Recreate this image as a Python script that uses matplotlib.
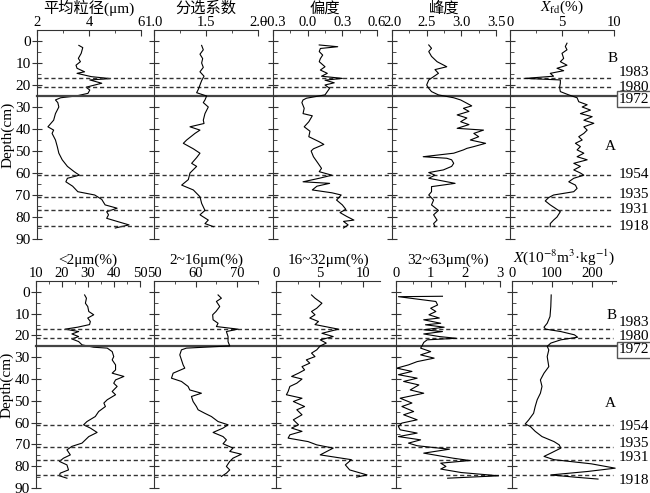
import matplotlib
matplotlib.use("Agg")
from matplotlib import pyplot as plt
from matplotlib.ticker import MultipleLocator

plt.rcParams['font.family'] = ['Liberation Serif', 'Noto Sans CJK SC']
plt.rcParams['mathtext.fontset'] = 'stix'
plt.rcParams['font.size'] = 10.5

# ---- top row data (depth in cm) ----
depth_mz = [2, 3, 5.6, 7.9, 9.4, 11, 12.4, 14, 14.7, 16.2, 17.1, 17.7, 19.2, 21, 22.3, 23.8, 25, 25.8,
            26.8, 28, 30, 33, 36, 39, 40.5, 42, 45, 48, 51, 54, 57, 59.4, 61, 62.4, 64, 66, 68.5, 70,
            72, 74.5, 76, 77.6, 79, 80.6, 82, 83.6, 85]
mean_size = [3.61, 3.76, 3.70, 3.59, 3.67, 3.50, 3.54, 3.83, 3.54, 4.09, 4.82, 4.03, 4.49, 3.89, 4.03,
             3.96, 3.50, 2.91, 2.71, 2.80, 2.84, 2.71, 2.64, 2.42, 2.64, 2.58, 2.71, 2.78, 2.84, 2.97,
             3.17, 3.43, 3.63, 3.17, 3.11, 3.37, 3.57, 4.22, 4.49, 4.62, 5.08, 4.68, 4.75, 4.68, 5.08,
             5.54, 5.01]

depth_so = [2, 4, 6, 8, 10, 12, 14, 16, 18, 20, 22, 23.5, 25, 26.8, 28, 30, 33, 36, 37.5, 39, 40.5,
            42, 45, 46.5, 49, 51, 53, 55.6, 57, 60, 63, 65.5, 67.7, 70.8, 73.8, 77, 79, 81.4, 83, 84.4]
sorting = [1.458, 1.474, 1.442, 1.468, 1.458, 1.474, 1.442, 1.481, 1.458, 1.442, 1.426, 1.41, 1.506,
           1.49, 1.474, 1.522, 1.49, 1.474, 1.481, 1.346, 1.442, 1.394, 1.314, 1.282, 1.378, 1.442,
           1.41, 1.362, 1.41, 1.346, 1.33, 1.266, 1.378, 1.442, 1.458, 1.49, 1.442, 1.522, 1.49, 1.571]

depth_sk = [1.8, 2.6, 3.4, 4.8, 6.4, 8, 9.4, 11.7, 13.2, 14.7, 16, 17, 17.8, 19, 20, 21.5, 23, 24.5,
            26, 26.8, 28, 30.6, 33, 34, 36.7, 39, 41, 43.5, 45.8, 47, 49, 50, 52.6, 55.6, 57.9, 59.4,
            61, 62.4, 64, 64.7, 66, 67.7, 69, 70, 72.3, 74.5, 76.5, 78, 79.8, 81.4, 82, 83.6, 85]
skewness = [0.10, 0.26, 0.11, 0.10, 0.13, 0.11, 0.10, 0.15, 0.11, 0.17, 0.12, 0.30, 0.15, 0.23, 0.15,
            0.19, 0.17, 0.15, -0.01, -0.04, -0.05, -0.03, -0.04, 0.04, 0.01, -0.03, 0.02, 0.01, 0.10,
            0.14, 0.05, 0.03, 0.05, 0.09, 0.12, 0.10, 0.21, 0.10, -0.04, 0.19, 0.08, 0.04, 0.21, 0.29,
            0.25, 0.30, 0.33, 0.28, 0.34, 0.40, 0.31, 0.35, 0.31]

depth_ku = [1.8, 3.3, 4.8, 7, 9.4, 11.7, 13, 14.7, 16.2, 17.7, 20, 21.5, 23, 24.5, 25.8, 26.8, 28.3,
            29.5, 30.6, 32, 33.6, 35, 36.7, 38, 39.7, 40.5, 42, 43.5, 45, 46.5, 48, 48.8, 49.5, 51,
            52.6, 53.3, 54, 55.6, 57, 58.6, 59.8, 61, 62.4, 64.7, 66.2, 68.5, 70, 72.3, 74.5, 77, 79,
            81.4, 83, 84.4]
kurtosis = [2.53, 2.57, 2.53, 2.57, 2.65, 2.79, 2.62, 2.67, 2.60, 2.53, 2.50, 2.53, 2.57, 2.67, 2.89,
            2.99, 3.08, 3.15, 3.03, 3.11, 2.94, 3.08, 2.99, 3.11, 2.94, 3.32, 3.18, 3.25, 3.13, 3.35,
            3.18, 3.08, 3.03, 2.89, 2.45, 2.79, 2.86, 2.89, 2.86, 2.74, 2.53, 2.62, 2.53, 2.91, 2.57,
            2.57, 2.53, 2.60, 2.57, 2.67, 2.60, 2.65, 2.60, 2.62]

depth_xfd = [1, 2.5, 4, 5.6, 7.9, 9.4, 11, 12.4, 13.5, 14.7, 16, 17, 17.7, 19.2, 21, 23, 24.5, 25.8,
             27.6, 29, 30, 31.4, 33, 34.4, 36, 37.4, 39, 40.5, 42, 43.5, 45, 46.5, 48, 49.5, 51, 52.6,
             54, 55.6, 57, 58.6, 60, 61, 62.4, 64, 65.5, 67, 68.5, 70, 71.2, 72.7, 74.5, 76, 77.6, 80,
             81.4, 83, 84.4]
xfd = [5.48, 5.32, 5.48, 5.0, 5.16, 4.84, 5.48, 4.52, 5.16, 3.87, 4.19, 1.45, 4.84, 4.84, 4.77, 4.84,
       5.65, 6.45, 6.61, 7.42, 6.94, 7.74, 6.77, 7.90, 7.10, 8.06, 7.10, 7.42, 7.10, 6.61, 6.94, 6.29,
       6.77, 6.45, 7.10, 6.45, 7.42, 6.13, 6.77, 6.13, 6.77, 7.10, 6.13, 5.65, 6.29, 6.45, 6.13, 4.19,
       3.71, 3.39, 3.87, 4.35, 4.84, 4.52, 4.19, 3.87, 3.87]

# ---- bottom row data ----
depth_clay = [1.4, 2.9, 5.2, 6.7, 9, 10.5, 12, 13.6, 15, 16.2, 17.1, 18.2, 19.3, 20.5, 21.6, 22.8,
              24.3, 25.4, 25.8, 27.4, 29.7, 31.2, 33.5, 35.8, 37.3, 38.8, 40.4, 41.9, 43.4, 45.7,
              47.2, 49.5, 51, 52.6, 54.9, 57.2, 59.5, 61, 62.5, 64.5, 66.4, 67.9, 69.4, 70.9, 72.5,
              74.8, 76.3, 77.8, 79.4, 81.7, 83.2, 84.4, 85.5]
clay = [28.7, 29.4, 29.0, 29.9, 30.3, 32.2, 29.9, 30.9, 30.6, 26.0, 21.2, 26.4, 23.8, 26.4, 23.8, 26.4,
        27.7, 32.2, 37.4, 39.3, 39.9, 39.3, 40.6, 40.6, 39.3, 43.8, 40.6, 39.9, 41.2, 39.3, 40.6, 37.4,
        36.1, 36.7, 34.1, 32.8, 29.6, 28.3, 30.9, 33.5, 30.3, 29.0, 27.7, 23.8, 21.9, 23.2, 20.6, 19.0,
        21.9, 22.5, 19.3, 19.0, 21.9]

depth_fs = [1.4, 2.9, 4.4, 6.7, 9, 10.5, 12.8, 14.4, 15.9, 17.1, 18.2, 20.5, 22.8, 24.8, 25.8, 26.6,
            28.9, 31.2, 33.5, 35, 37.3, 39.6, 41.1, 43.4, 45, 46.5, 48, 50.3, 52.6, 54.1, 55.7, 57.2,
            59.5, 61, 62.5, 64.5, 66.4, 67.9, 69.7, 71.7, 73.2, 74.5, 76.3, 77.8, 80.1, 81.7, 83.2, 84.7]
silt_2_16 = [65.4, 66.2, 65.0, 65.8, 64.9, 64.1, 64.2, 65.4, 65.0, 70.2, 67.4, 67.8, 67.8, 68.2, 57.8,
             56.6, 56.2, 56.6, 57.0, 57.4, 54.6, 54.2, 56.6, 58.2, 58.6, 61.4, 59.0, 59.4, 60.2, 60.6,
             62.2, 63.8, 65.4, 67.8, 66.6, 64.2, 66.6, 67.4, 66.6, 69.0, 68.2, 71.0, 69.0, 68.2, 67.4,
             68.2, 67.4, 66.2]

depth_ms = [1.4, 2.9, 5.2, 7.5, 9, 10.5, 12, 13.6, 15, 17.1, 19, 20.5, 22, 23.5, 24.8, 26.6, 28.1,
            29.7, 31.2, 32.7, 34.3, 35.8, 37.3, 38.8, 40, 41.9, 43.4, 45.7, 47.2, 48.8, 50.3, 52.6,
            54.1, 56.4, 58.7, 61, 62.5, 64, 65.6, 67.1, 68.7, 70.2, 71.7, 74.8, 77, 79.4, 81.7, 84, 85]
silt_16_32 = [4.1, 4.5, 5.3, 4.7, 4.1, 4.5, 3.9, 4.9, 4.5, 7.2, 5.3, 6.6, 5.1, 5.8, 5.1, 4.7, 4.1,
              4.5, 3.5, 3.9, 3.0, 3.3, 2.6, 1.8, 3.0, 2.4, 1.6, 1.4, 1.2, 3.0, 2.0, 3.3, 2.4, 3.0, 2.0,
              2.6, 1.8, 3.0, 1.6, 1.4, 3.7, 4.7, 6.6, 5.1, 8.7, 8.0, 8.5, 10.5, 9.3]

depth_cs = [2.0, 2.2, 4.4, 6.0, 7.5, 9.0, 10.5, 12.0, 12.8, 14.4, 15.1, 16.2, 17.4, 18.2, 19.3, 20.5,
            21.3, 22.0, 23.2, 24.8, 25.8, 27.4, 28.9, 30.4, 32.0, 33.5, 35.0, 36.5, 38.0, 39.6, 41.1,
            42.7, 45.0, 46.5, 48.8, 51.0, 52.6, 54.9, 56.4, 58.7, 60.2, 61.8, 63.3, 64.8, 66.4, 67.9,
            69.4, 70.6, 72.2, 74.0, 76.3, 77.4, 78.6, 80.1, 81.3, 82.9, 84.4, 85.5]
silt_32_63 = [1.34, 0.07, 1.15, 1.20, 1.00, 1.15, 0.95, 1.25, 0.80, 1.29, 0.85, 1.39, 0.80, 1.34, 0.80,
              1.25, 1.74, 0.90, 0.80, 0.75, 0.71, 1.00, 0.71, 1.10, 0.61, 0.36, 0.02, 0.46, 0.07, 0.61,
              0.22, 0.66, 0.41, 0.80, 0.12, 0.46, 0.17, 0.51, 0.22, 0.61, 0.17, 0.07, 0.12, 0.61, 0.07,
              0.71, 0.36, 0.61, 1.54, 0.80, 1.64, 2.13, 1.29, 1.44, 1.29, 1.88, 2.96, 1.49]

depth_chi = [1.4, 6.7, 11.3, 14.4, 16.2, 17.1, 18.2, 19.7, 20.8, 22, 23.5, 25, 26.6, 29.7, 34.3, 37.3,
             40.4, 43.4, 46.5, 49.5, 52.6, 55.7, 58.7, 60.6, 61.8, 64, 66.4, 68.7, 70.2, 71.7, 74,
             75.5, 77, 78.9, 80.9, 82.4, 84, 85, 85.9]
chi = [98, 97, 95, 88, 80, 84, 122, 156, 164, 122, 97, 88, 92, 88, 92, 80, 71, 75, 71, 63, 58, 54, 42,
       33, 46, 58, 75, 105, 118, 122, 97, 80, 105, 198, 258, 190, 97, 156, 215]

dashed_depths = [17, 21, 61, 71, 77, 84]
solid_depth = 25

top_titles = ['平均粒径(μm)', '分选系数', '偏度', '峰度', '$X_{\\rm fd}$(%)']
bottom_titles = ['<2μm(%)', '2~16μm(%)', '16~32μm(%)', '32~63μm(%)',
                 '$X$(10$^{-8}$m$^{3}$·kg$^{-1}$)']
label_names = ['B', '1983', '1980', '1972', 'A', '1954', '1935', '1931', '1918']

W, H = 650, 493
fig = plt.figure(figsize=(6.5, 4.93), dpi=100)

top_panels = [
    (depth_mz, mean_size, (2, 6), 2, 1, 37),
    (depth_so, sorting, (1.0, 2.0), 0.5, 0.25, 154),
    (depth_sk, skewness, (-0.3, 0.6), 0.3, 0.15, 273),
    (depth_ku, kurtosis, (2.0, 3.5), 0.5, 0.25, 392),
    (depth_xfd, xfd, (0, 10), 5, 2.5, 510),
]
bottom_panels = [
    (depth_clay, clay, (10, 50), 10, 5, 36),
    (depth_fs, silt_2_16, (50, 75), 10, 5, 154),
    (depth_ms, silt_16_32, (0, 12), 5, 2.5, 276),
    (depth_cs, silt_32_63, (0, 3), 1, 0.5, 396),
    (depth_chi, chi, (0, 260), 100, 50, 512),
]

spine_col = '#333333'


def make_row(panels, titles, top_px, bot_px, labels, label_x):
    axes = []
    for i, (d, v, xlim, maj, mnr, left) in enumerate(panels):
        ax = fig.add_axes([left / W, 1 - bot_px / H, 104 / W, (bot_px - top_px) / H])
        ax.plot(v, d, color='black', lw=0.8)
        ax.set_xlim(*xlim)
        ax.set_ylim(90, -5)
        ax.xaxis.tick_top()
        ax.xaxis.set_major_locator(MultipleLocator(maj))
        ax.xaxis.set_minor_locator(MultipleLocator(mnr))
        ax.yaxis.set_major_locator(MultipleLocator(10))
        ax.yaxis.set_minor_locator(MultipleLocator(5))
        ax.tick_params(axis='x', which='major', direction='in', length=4, pad=1,
                       color=spine_col, labelsize=10.5)
        ax.tick_params(axis='x', which='minor', direction='in', length=2.5, color=spine_col)
        ax.tick_params(axis='y', which='major', direction='inout', length=7, color=spine_col,
                       labelsize=11, pad=1)
        ax.tick_params(axis='y', which='minor', direction='in', length=3, color=spine_col)
        for s in ['right', 'bottom']:
            ax.spines[s].set_visible(False)
        for s in ['left', 'top']:
            ax.spines[s].set_color(spine_col)
        if i > 0:
            ax.tick_params(axis='y', labelleft=False)
        else:
            ax.set_ylabel('Depth(cm)', fontsize=11, labelpad=1)
        ax.set_title(titles[i], fontsize=11, pad=1)
        ax.patch.set_alpha(0)
        axes.append(ax)

    # marker horizons across the whole row
    ax0 = axes[0]
    left0 = panels[0][5]
    for d in dashed_depths:
        ax0.axhline(d, xmin=0, xmax=(613 - left0) / 104, ls=(0, (3, 2)), lw=1,
                    color=spine_col, clip_on=False)
    ax0.axhline(solid_depth, xmin=0, xmax=(617 - left0) / 104, lw=1.6,
                color='#444444', clip_on=False)

    axl = axes[-1]
    lleft = panels[-1][5]
    for txt, d, xp in zip(label_names, labels, label_x):
        kw = {}
        if txt == '1972':
            kw['bbox'] = dict(boxstyle='square,pad=0.1', fc='white', ec='#555555', lw=1)
        axl.text((xp - lleft) / 104, d, txt, transform=axl.get_yaxis_transform(),
                 ha='left', va='center', fontsize=11, **kw)
    return axes


make_row(top_panels, top_titles, 30, 239,
         [8, 14.5, 21, 26.4, 48, 60.5, 70, 76.4, 84.1],
         [608, 619, 619, 619, 605, 619, 619, 619, 619])
make_row(bottom_panels, bottom_titles, 281, 488,
         [11, 14.2, 20.6, 26.6, 51, 62, 69.7, 76, 86.7],
         [607, 619, 619, 619, 605, 619, 619, 619, 619])

fig.savefig('out.png', dpi=100)
